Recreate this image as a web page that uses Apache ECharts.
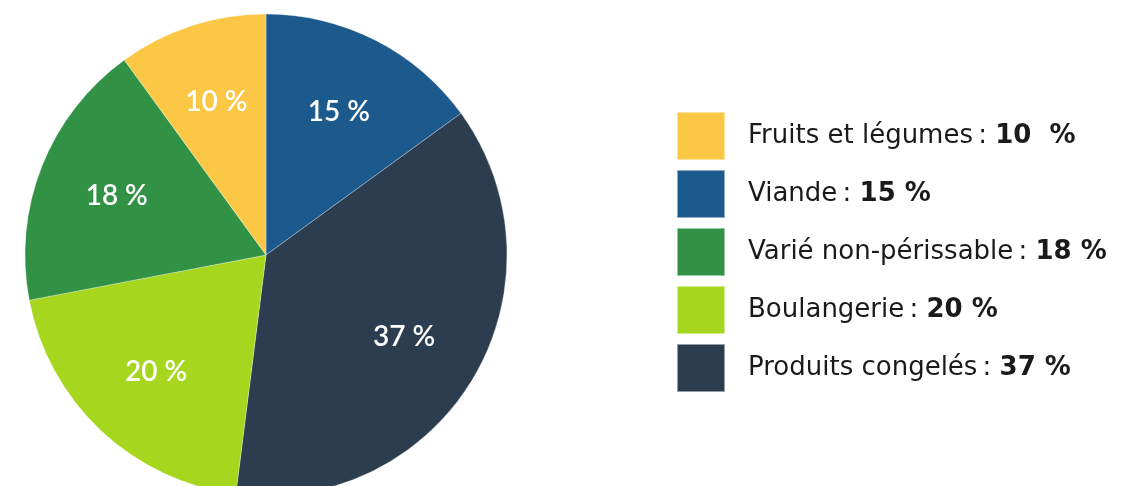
<!DOCTYPE html>
<html>
<head>
<meta charset="utf-8">
<script src="https://cdn.jsdelivr.net/npm/echarts@6/dist/echarts.min.js"></script>
<style>
  html, body { margin: 0; padding: 0; background: #fff; }
  #main { width: 1123px; height: 486px; }
</style>
</head>
<body>
<div id="main"></div>
<script>
// slices, clockwise from 12 o'clock
var names = ['Viande', 'Produits congelés', 'Boulangerie', 'Varié non-périssable', 'Fruits et légumes'];
var values = [15, 37, 20, 18, 10];
var colors = ['#1c598c', '#2c3d4f', '#a6d71e', '#319145', '#fbc744'];
// legend order
var legendOrder = ['Fruits et légumes', 'Viande', 'Varié non-périssable', 'Boulangerie', 'Produits congelés'];

var myChart = echarts.init(document.getElementById('main'));

var center = [266, 255];
var radius = 241;

var pieData = [];
for (var i = 0; i < names.length; i++) {
  pieData.push({ name: names[i], value: values[i], itemStyle: { color: colors[i] } });
}

function valueOf(name) {
  return values[names.indexOf(name)];
}

var option = {
  animation: false,
  legend: {
    data: legendOrder,
    orient: 'vertical',
    left: 676,
    top: 111,
    padding: 0,
    itemWidth: 48,
    itemHeight: 48,
    itemGap: 8,
    icon: 'rect',
    selectedMode: false,
    formatter: function(name) {
      var v = valueOf(name);
      var pct = v === 10 ? '10  %' : v + ' %';
      return name + '\u2009: {b|' + pct + '}';
    },
    textStyle: {
      fontFamily: 'DejaVu Sans',
      fontSize: 26,
      lineHeight: 30,
      color: '#1a1a1a',
      padding: [0, 0, 0, 18],
      rich: {
        b: { fontFamily: 'DejaVu Sans', fontSize: 26, lineHeight: 30, fontWeight: 'bold', color: '#1a1a1a' }
      }
    }
  },
  series: [{
    type: 'pie',
    center: center,
    radius: [0, radius],
    startAngle: 90,
    clockwise: true,
    itemStyle: { borderColor: 'rgba(255,255,255,0.5)', borderWidth: 0.6 },
    label: {
      position: 'inside',
      formatter: '{c} %',
      color: '#fff',
      fontFamily: 'Lato',
      fontSize: 28,
      fontWeight: 600
    },
    labelLayout: function(params) {
      var r = params.labelRect;
      var cx = r.x + r.width / 2, cy = r.y + r.height / 2;
      var k = 1.3;
      return { x: center[0] + (cx - center[0]) * k, y: center[1] + (cy - center[1]) * k };
    },
    emphasis: { disabled: true },
    data: pieData
  }]
};
myChart.setOption(option);
</script>
</body>
</html>
